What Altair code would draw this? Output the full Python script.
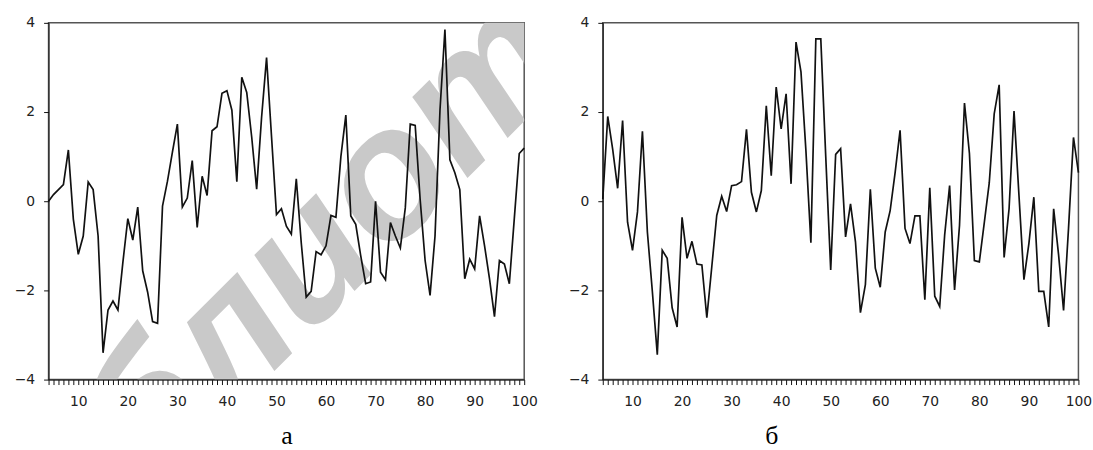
import altair as alt
import pandas as pd

# ---- data ----
T = list(range(4, 101))

SERIES_A = [
    0.0, 0.15, 0.26, 0.37, 1.15, -0.4, -1.19, -0.78, 0.43, 0.26,
    -0.78, -3.4, -2.44, -2.24, -2.44, -1.37, -0.39, -0.87, -0.13, -1.56,
    -2.04, -2.7, -2.74, -0.11, 0.45, 1.1, 1.73, -0.13, 0.07, 0.91,
    -0.59, 0.56, 0.13, 1.58, 1.67, 2.42, 2.48, 2.04, 0.44, 2.78,
    2.44, 1.44, 0.27, 1.89, 3.22, 1.45, -0.3, -0.17, -0.56, -0.74,
    0.5, -0.93, -2.15, -2.02, -1.13, -1.2, -1.0, -0.32, -0.36, 1.0,
    1.93, -0.33, -0.52, -1.22, -1.85, -1.81, 0.0, -1.59, -1.76, -0.48,
    -0.78, -1.05, -0.15, 1.73, 1.7, 0.04, -1.33, -2.11, -0.78, 2.04,
    3.85, 0.93, 0.64, 0.26, -1.74, -1.3, -1.52, -0.33, -1.0, -1.74,
    -2.59, -1.33, -1.41, -1.85, -0.39, 1.07, 1.19,
]

SERIES_B = [
    0.05, 1.9, 1.16, 0.29, 1.81, -0.47, -1.1, -0.24, 1.57, -0.69,
    -2.02, -3.44, -1.1, -1.28, -2.39, -2.82, -0.36, -1.28, -0.9, -1.41,
    -1.43, -2.61, -1.47, -0.32, 0.11, -0.23, 0.35, 0.37, 0.44, 1.61,
    0.2, -0.24, 0.24, 2.14, 0.57, 2.56, 1.62, 2.41, 0.39, 3.57,
    2.9, 1.13, -0.93, 3.64, 3.64, 1.0, -1.54, 1.05, 1.18, -0.8,
    -0.06, -0.91, -2.5, -1.87, 0.27, -1.5, -1.93, -0.69, -0.21, 0.64,
    1.59, -0.61, -0.95, -0.33, -0.33, -2.21, 0.3, -2.13, -2.36, -0.76,
    0.35, -1.99, -0.54, 2.2, 1.07, -1.33, -1.36, -0.48, 0.41, 1.96,
    2.61, -1.26, -0.17, 2.02, 0.13, -1.76, -0.95, 0.09, -2.02, -2.02,
    -2.82, -0.17, -1.21, -2.45, -0.61, 1.43, 0.64,
]

X_DOMAIN = [4, 100]
X_TICKS = list(range(4, 101))
Y_DOMAIN = [-4, 4]
Y_TICKS = [-4, -2, 0, 2, 4]
PANEL_TITLES = ["а", "б"]
WATERMARK = "Библиотека"
WATERMARK_AT = [63.9, -0.49]

W, H = 480, 360


def panel(values, title, title_x, watermark=False):
    df = pd.DataFrame({"t": T, "v": values})
    x = alt.X(
        "t:Q",
        scale=alt.Scale(domain=X_DOMAIN, nice=False, zero=False),
        axis=alt.Axis(
            values=X_TICKS,
            labelExpr="datum.value % 10 == 0 ? datum.label : ''",
            format="d",
            labelOverlap=False,
            labelFlush=False,
            labelFont="DejaVu Sans",
            labelFontSize=14,
            labelColor="#222",
            labelPadding=10,
            tickSize=5,
            tickColor="#111",
            domainColor="#111",
            grid=False,
            zindex=1,
            title=title,
            titleX=title_x,
            titleY=64,
            titleAlign="center",
            titleBaseline="alphabetic",
            titleFont="Liberation Serif",
            titleFontSize=26,
            titleFontWeight="normal",
            titleColor="#000",
        ),
    )
    y = alt.Y(
        "v:Q",
        scale=alt.Scale(domain=Y_DOMAIN, nice=False, zero=False),
        axis=alt.Axis(
            values=Y_TICKS,
            labelFont="DejaVu Sans",
            labelFontSize=14,
            labelColor="#222",
            labelPadding=9,
            tickSize=5,
            tickColor="#111",
            domainColor="#111",
            grid=False,
            zindex=1,
            title=None,
        ),
    )
    line = alt.Chart(df).mark_line(color="#111", strokeWidth=1.7).encode(x=x, y=y)
    layers = []
    if watermark:
        wm = pd.DataFrame({"t": [WATERMARK_AT[0]], "v": [WATERMARK_AT[1]], "txt": [WATERMARK]})
        layers.append(
            alt.Chart(wm)
            .mark_text(
                angle=315,
                fontSize=184,
                font="Liberation Sans",
                fontStyle="italic",
                fontWeight="bold",
                color="#c9c9c9",
                align="center",
                baseline="middle",
                clip=True,
            )
            .encode(x=x, y=y, text="txt:N")
        )
    layers.append(line)
    return alt.layer(*layers).properties(width=W, height=H)


left = panel(SERIES_A, PANEL_TITLES[0], 240, watermark=True)
right = panel(SERIES_B, PANEL_TITLES[1], 170)

chart = (
    alt.hconcat(left, right, spacing=79.3, bounds="flush")
    .properties(padding={"left": 13, "top": 13, "right": 0, "bottom": 0}, background="white")
    .configure_view(stroke="#555", strokeWidth=1.5)
)

chart.save("out.html", embed_options={"renderer": "svg", "actions": False})
